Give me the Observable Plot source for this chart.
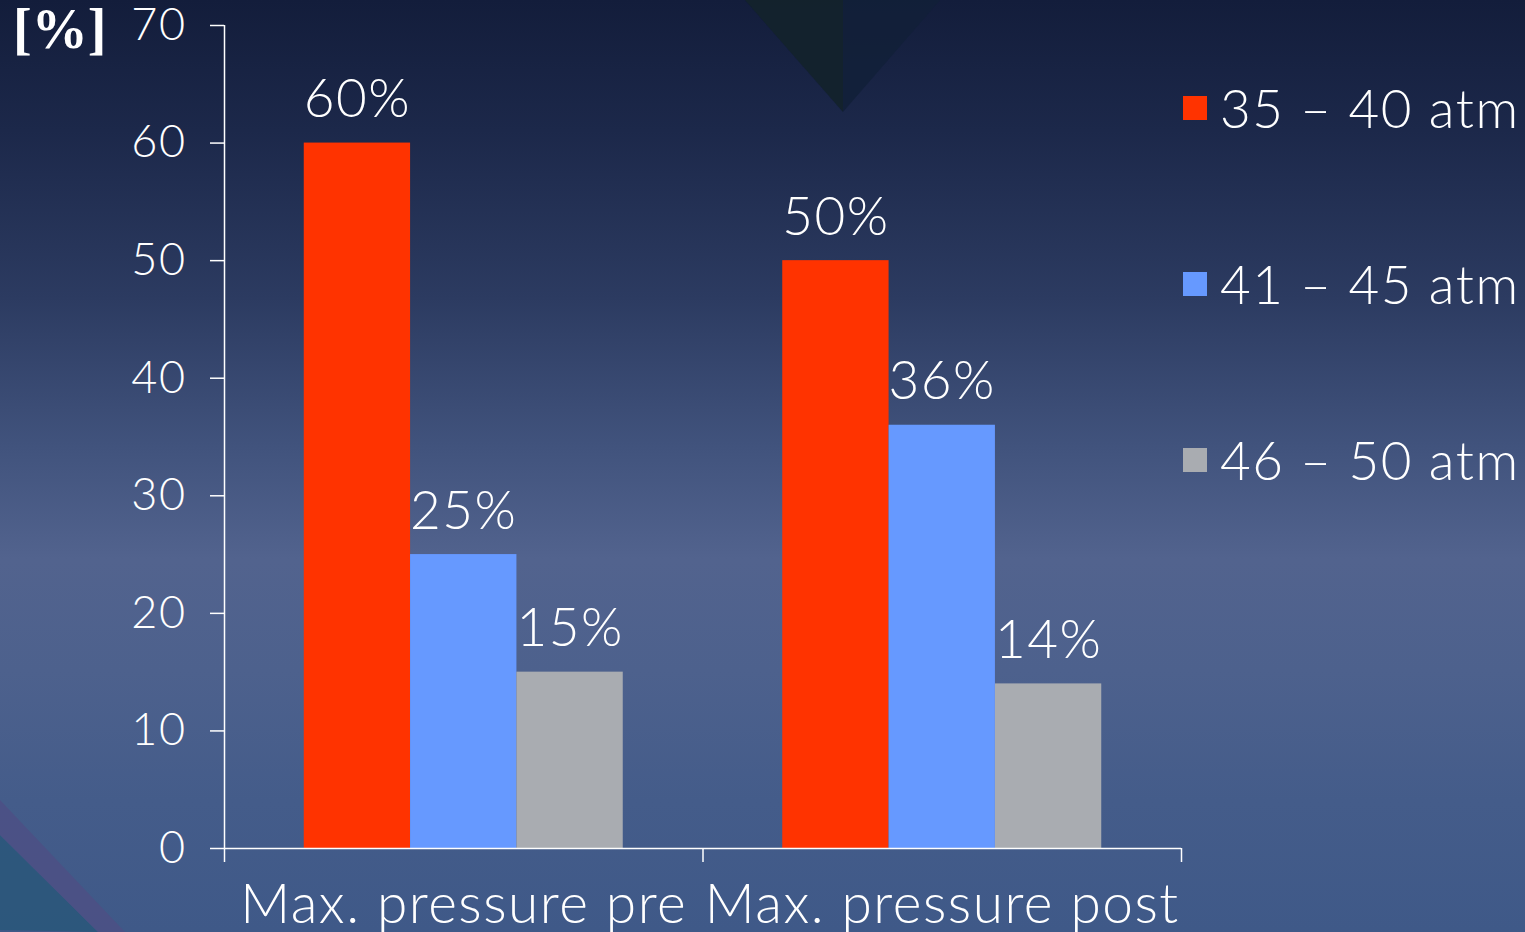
<!DOCTYPE html>
<html>
<head>
<meta charset="utf-8">
<script src="https://cdn.jsdelivr.net/npm/d3@7"></script>
<script src="https://cdn.jsdelivr.net/npm/@observablehq/plot@0.6"></script>
<style>
html, body { margin: 0; padding: 0; }
body {
  width: 1525px; height: 932px; overflow: hidden; position: relative;
  background: linear-gradient(to bottom, #131d3b 0%, #1c284a 14%, #2c3b61 32%, #41537d 48%, #52638e 60%, #4d618d 72%, #445c8a 86%, #3f5988 100%);
  font-family: Lato, "Noto Sans", sans-serif;
}
#deco { position: absolute; left: 0; top: 0; }
#chart { position: absolute; left: 0; top: 0; }
#unit { position: absolute; left: 13px; top: -3px; font: bold 56px "Liberation Serif", serif; color: #fff; }
#legend { position: absolute; left: 1183px; top: 76px; color: #fff; }
.item { position: absolute; left: 0; display: flex; align-items: center; white-space: nowrap; font-size: 53px; font-weight: 300; letter-spacing: 1.5px; }
.sw { width: 24px; height: 24px; margin-right: 13px; }
svg text { letter-spacing: 1.5px; }
</style>
</head>
<body>
<svg id="deco" width="1525" height="932">
  <polygon points="745,0 940,0 843,112" fill="#122038" opacity="0.85"/>
  <polygon points="745,0 843,0 843,112" fill="#17261f" opacity="0.45"/>
  <polygon points="0,930 0,835 98,932" fill="#285679" opacity="0.8"/>
  <polygon points="0,800 0,835 98,932 125,932" fill="#4d4f85" opacity="0.8"/>
</svg>
<div id="chart"></div>
<div id="unit">[%]</div>
<div id="legend"></div>
<script>
const groups = ["Max. pressure pre", "Max. pressure post"];
const series = ["35 – 40 atm", "41 – 45 atm", "46 – 50 atm"];
const colors = ["#ff3300", "#6699ff", "#a9acb1"];
const preValues = [60, 25, 15];
const postValues = [50, 36, 14];
const yTicks = [0, 10, 20, 30, 40, 50, 60, 70];

const valuesByGroup = [preValues, postValues];
const data = [];
groups.forEach((g, gi) => {
  series.forEach((s, si) => {
    data.push({ group: g, gi, series: s, si, value: valuesByGroup[gi][si] });
  });
});
// bars occupy the middle two thirds of each group slot
const barW = 2 / 9;
const x1 = d => d.gi + 1 / 6 + d.si * barW;
const x2 = d => x1(d) + barW;
const xc = d => x1(d) + barW / 2;

const chart = Plot.plot({
  width: 1525,
  height: 932,
  marginLeft: 224,
  marginRight: 344,
  marginTop: 25,
  marginBottom: 84,
  style: { background: "transparent", color: "#ffffff", fontFamily: "Lato, 'Noto Sans', sans-serif", fontWeight: 300, overflow: "visible" },
  x: { domain: [0, groups.length], axis: null },
  y: { domain: [0, 70], axis: null },
  color: { domain: series, range: colors },
  marks: [
    Plot.rect(data, { x1, x2, y1: 0, y2: "value", fill: "series" }),
    Plot.ruleX([0], { stroke: "#ffffff", strokeWidth: 1.5 }),
    Plot.ruleY([0], { stroke: "#ffffff", strokeWidth: 1.5 }),
    Plot.axisY({ ticks: yTicks, tickSize: 14, tickPadding: 24, fontSize: 45, stroke: "#ffffff", strokeWidth: 1.5, label: null, tickFormat: d => String(d) }),
    Plot.axisX({ ticks: d3.range(groups.length + 1), tickSize: 14, stroke: "#ffffff", strokeWidth: 1.5, tickFormat: () => "", label: null }),
    Plot.axisX({ ticks: groups.map((g, i) => i + 0.5), tickSize: 0, tickPadding: 35, fontSize: 55, tickFormat: v => groups[Math.floor(v)], label: null }),
    Plot.text(data, { x: xc, y: "value", text: d => d.value + "%", fill: "#ffffff", fontSize: 53, lineAnchor: "bottom", dy: -26 })
  ]
});
document.getElementById("chart").appendChild(chart);

const legend = document.getElementById("legend");
series.forEach((s, i) => {
  const item = document.createElement("div");
  item.className = "item";
  item.style.top = (i * 176) + "px";
  const sw = document.createElement("div");
  sw.className = "sw";
  sw.style.background = colors[i];
  const t = document.createElement("span");
  t.textContent = s;
  item.appendChild(sw);
  item.appendChild(t);
  legend.appendChild(item);
});
</script>
</body>
</html>
